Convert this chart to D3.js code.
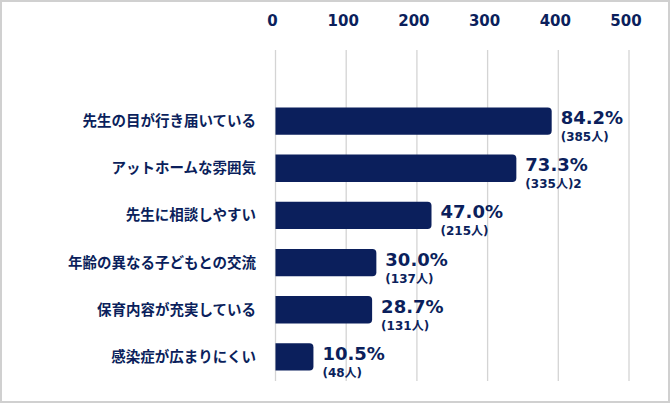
<!DOCTYPE html><html><head><meta charset="utf-8"><script src="https://cdn.jsdelivr.net/npm/d3@7"></script>
<style>body{margin:0;background:#fff}text{font-family:"DejaVu Sans","Noto Sans CJK JP",sans-serif}</style></head><body>
<svg id="c" width="670" height="403"></svg>
<script>
const categories=["先生の目が行き届いている","アットホームな雰囲気","先生に相談しやすい","年齢の異なる子どもとの交流","保育内容が充実している","感染症が広まりにくい"];
const counts=[385,335,215,137,131,48];
const percents=["84.2%","73.3%","47.0%","30.0%","28.7%","10.5%"];
const countLabels=["(385人)","(335人)2","(215人)","(137人)","(131人)","(48人)"];
const ticks=[0,100,200,300,400,500];
const col="#0b1f5c";
const svg=d3.select("#c");
svg.append("rect").attr("x",1).attr("y",1).attr("width",668).attr("height",401).attr("fill","#fff").attr("stroke","#d0d0d0").attr("stroke-width",2);
const x=d3.scaleLinear().domain([0,500]).range([275.5,629]);
const y=d3.scaleBand().domain(categories).range([97,381]).paddingInner(0.42).paddingOuter(0.22);
svg.selectAll(".g").data(ticks).join("line").attr("x1",d=>x(d)).attr("x2",d=>x(d)).attr("y1",50).attr("y2",381).attr("stroke","#d4d4d4").attr("stroke-width",1.3);
svg.selectAll(".t").data(ticks).join("text").attr("x",d=>x(d)-3).attr("y",26).attr("text-anchor","middle").attr("font-size",15).attr("font-weight","bold").attr("fill",col).text(d=>d);
svg.selectAll(".b").data(categories).join("path").attr("fill",col).attr("d",(d,i)=>{const x0=x(0),x1=x(counts[i])+4,y0=y(d),h=y.bandwidth(),r=4;return `M${x0},${y0}H${x1-r}Q${x1},${y0} ${x1},${y0+r}V${y0+h-r}Q${x1},${y0+h} ${x1-r},${y0+h}H${x0}Z`;});
svg.selectAll(".c").data(categories).join("text").attr("x",256).attr("y",d=>y(d)+y.bandwidth()/2+5).attr("text-anchor","end").attr("font-size",14.5).attr("font-weight","bold").attr("fill",col).style("font-family","'Noto Sans CJK JP'").text(d=>d);
svg.selectAll(".p").data(categories).join("text").attr("x",(d,i)=>x(counts[i])+13).attr("y",d=>y(d)+y.bandwidth()/2+3).attr("font-size",18).attr("font-weight","bold").attr("fill",col).text((d,i)=>percents[i]);
svg.selectAll(".n").data(categories).join("text").attr("x",(d,i)=>x(counts[i])+13).attr("y",d=>y(d)+y.bandwidth()/2+20).attr("font-size",12).attr("font-weight","bold").attr("fill",col).text((d,i)=>countLabels[i]);
</script></body></html>
